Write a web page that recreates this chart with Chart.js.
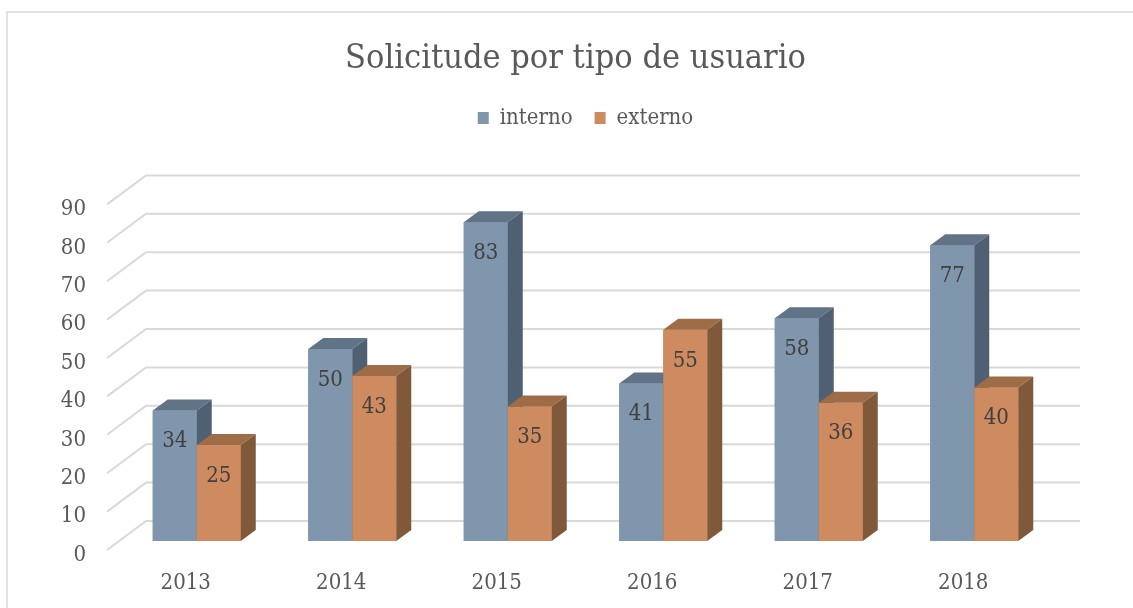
<!DOCTYPE html>
<html>
<head>
<meta charset="utf-8">
<title>Solicitude por tipo de usuario</title>
<script src="https://cdn.jsdelivr.net/npm/chart.js"></script>
<style>
  body { margin: 0; background: #fff; }
  #wrap { width: 1133px; height: 608px; }
</style>
</head>
<body>
<div id="wrap"><canvas id="grafico"></canvas></div>
<script>
const anos = ['2013', '2014', '2015', '2016', '2017', '2018'];
const interno = [34, 50, 83, 41, 58, 77];
const externo = [25, 43, 35, 55, 36, 40];
const escalaY = { min: 0, max: 90, passo: 10 };

const FONTE = "'DejaVu Serif Condensed', 'Liberation Serif', serif";
const CINZA = '#595959';
const GRADE = '#d9d9d9';

// cores das faces de cima e do lado de cada serie
const faces = [
  { topo: '#607387', lado: '#4f6072' },
  { topo: '#9e6c47', lado: '#80593a' }
];
const PROF_X = 15, PROF_Y = -11;

const efeito3d = {
  id: 'efeito3d',
  beforeDraw(chart) {
    // moldura do grafico
    const c = chart.ctx;
    c.save();
    c.strokeStyle = GRADE;
    c.lineWidth = 1.5;
    c.beginPath();
    c.moveTo(7, chart.height);
    c.lineTo(7, 12);
    c.lineTo(chart.width, 12);
    c.stroke();
    c.restore();
  },
  beforeDatasetsDraw(chart) {
    // linhas de grade em perspectiva
    const c = chart.ctx, y = chart.scales.y, a = chart.chartArea;
    c.save();
    c.strokeStyle = GRADE;
    c.lineWidth = 2;
    y.ticks.forEach(t => {
      const py = y.getPixelForValue(t.value);
      c.beginPath();
      c.moveTo(a.left - 12, py + 9);
      c.lineTo(a.left + 27, py - 20);
      c.lineTo(a.right + 28, py - 20);
      c.stroke();
    });
    c.restore();
  },
  afterDatasetsDraw(chart) {
    const c = chart.ctx;
    // redesenha cada serie na ordem certa: frente, topo e lado
    chart.data.datasets.forEach((ds, i) => {
      const cor = faces[i];
      chart.getDatasetMeta(i).data.forEach(bar => {
        bar.draw(c);
        const p = bar.getProps(['x', 'y', 'base', 'width'], true);
        const x0 = p.x - p.width / 2, x1 = p.x + p.width / 2;
        c.save();
        c.fillStyle = cor.topo;
        c.beginPath();
        c.moveTo(x0, p.y);
        c.lineTo(x0 + PROF_X, p.y + PROF_Y);
        c.lineTo(x1 + PROF_X, p.y + PROF_Y);
        c.lineTo(x1, p.y);
        c.closePath();
        c.fill();
        c.fillStyle = cor.lado;
        c.beginPath();
        c.moveTo(x1, p.y);
        c.lineTo(x1 + PROF_X, p.y + PROF_Y);
        c.lineTo(x1 + PROF_X, p.base + PROF_Y);
        c.lineTo(x1, p.base);
        c.closePath();
        c.fill();
        c.restore();
      });
    });
    // rotulos de dados
    c.save();
    c.font = '22px ' + FONTE;
    c.fillStyle = '#404040';
    c.textAlign = 'center';
    c.textBaseline = 'middle';
    chart.data.datasets.forEach((ds, i) => {
      chart.getDatasetMeta(i).data.forEach((bar, j) => {
        c.fillText(ds.data[j], bar.x, bar.y + 31);
      });
    });
    c.restore();
  }
};

const fonte = size => ({ family: FONTE, size: size, weight: 'normal' });

new Chart(document.getElementById('grafico'), {
  type: 'bar',
  data: {
    labels: anos,
    datasets: [
      { label: 'interno', data: interno, backgroundColor: '#7f96ad', borderWidth: 0 },
      { label: 'externo', data: externo, backgroundColor: '#cd8b5f', borderWidth: 0 }
    ]
  },
  options: {
    responsive: true,
    maintainAspectRatio: false,
    animation: false,
    categoryPercentage: 0.566,
    barPercentage: 1,
    layout: { padding: { left: 18, top: 0, right: 0, bottom: 0 } },
    plugins: {
      title: {
        display: true,
        text: 'Solicitude por tipo de usuario',
        color: CINZA,
        font: fonte(34),
        padding: { top: 38.6, bottom: 5.6 }
      },
      legend: {
        position: 'top',
        fullSize: false,
        labels: { boxWidth: 11, boxHeight: 12, padding: 22, color: CINZA, font: fonte(22) }
      },
      subtitle: {
        // espaco entre a legenda e a area do grafico
        display: true,
        text: '',
        weight: 500,
        font: fonte(10),
        padding: { top: 0, bottom: 44.4 }
      },
      tooltip: { enabled: false }
    },
    scales: {
      x: {
        grid: { display: false, drawTicks: false },
        border: { display: false },
        ticks: { color: CINZA, font: fonte(22), padding: 29, labelOffset: -11, maxRotation: 0 },
        afterFit(s) { s.height = 67; s.paddingRight = 81; s.paddingLeft = 0; }
      },
      y: {
        min: escalaY.min,
        max: escalaY.max,
        grid: { display: false, drawTicks: false },
        border: { display: false },
        ticks: { stepSize: escalaY.passo, color: CINZA, font: fonte(22), padding: 33, labelOffset: 14 },
        afterFit(s) { s.width = 101; }
      }
    }
  },
  plugins: [efeito3d]
});
</script>
</body>
</html>
